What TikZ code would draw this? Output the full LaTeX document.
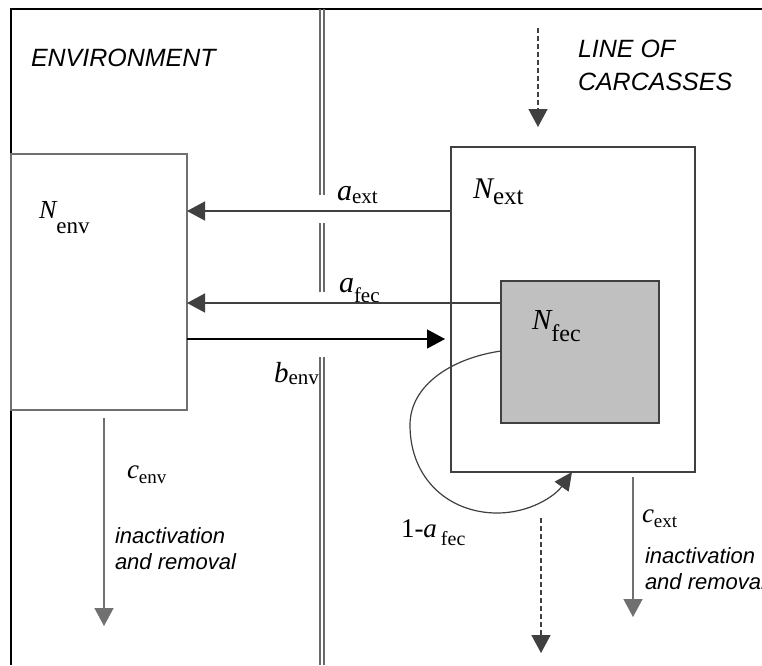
\documentclass[tikz,border=0pt]{standalone}
\usepackage{fontspec}
\setmainfont{Liberation Serif}
\newfontfamily\labelsans{Liberation Sans}
\usetikzlibrary{arrows.meta}

% italic quantity with an upright, lowered index
\newcommand\qtylabel[5]{{\fontsize{#3}{#3}\selectfont\itshape #1}\raisebox{-#5pt}{\fontsize{#4}{#4}\selectfont #2}}

\definecolor{boxgray}{HTML}{707070}
\definecolor{boxdark}{HTML}{404040}
\definecolor{fecgray}{HTML}{C0C0C0}
\definecolor{wallgray}{HTML}{6A6A6A}

\begin{document}
\begin{tikzpicture}[x=1pt,y=-1pt,
  box/.style={rectangle, inner sep=0pt, outer sep=0pt, line width=1.3pt},
  txt/.style={inner sep=0pt, outer sep=0pt, anchor=base west},
  sanstxt/.style={txt, font=\labelsans\itshape\fontsize{25}{33}\selectfont, align=left},
  removal/.style={txt, font=\labelsans\itshape\fontsize{22}{26}\selectfont, align=left},
  flow/.style={draw=boxdark, line width=1.4pt, -{Triangle[length=18pt,width=19pt]}},
  dashflow/.style={flow, dash pattern=on 5pt off 3pt},
  wall/.style={draw=wallgray, line width=1.1pt}]

\path[use as bounding box] (0,0) rectangle (762,665);
\clip (0,0) rectangle (762,665);
\fill[white] (0,0) rectangle (762,665);

% frame
\draw[black, line width=2.2pt] (11,665) -- (11,9) -- (762,9);

% double wall between the two zones, broken around the rate labels
\foreach \wx in {320,324} {
  \draw[wall] (\wx,9) -- (\wx,195);
  \draw[wall] (\wx,223) -- (\wx,292);
  \draw[wall] (\wx,357) -- (\wx,665);
}

% compartments
\node[box, draw=boxgray, minimum width=176pt, minimum height=256pt, anchor=north west] (envbox) at (11,154) {};
\node[box, draw=boxdark, minimum width=244pt, minimum height=325pt, anchor=north west] (extbox) at (451,147) {};
\node[box, draw=boxdark, fill=fecgray, minimum width=158pt, minimum height=142pt, anchor=north west] (fecbox) at (501,281) {};

% zone titles (anchored at the baseline of their last line)
\node[sanstxt] (envtitle) at (31,66) {ENVIRONMENT};
\node[sanstxt] (linetitle) at (578,90) {LINE OF\\CARCASSES};

% compartment labels
\node[txt] (nenv) at (39,218) {\qtylabel{N}{env}{26}{23}{15}};
\node[txt] (next) at (473,198) {\qtylabel{N}{ext}{30}{25}{6}};
\node[txt] (nfec) at (532,329) {\qtylabel{N}{fec}{29}{24}{12}};

% rate labels
\node[txt] (aext) at (337,200) {\qtylabel{a}{ext}{30}{21}{3}};
\node[txt] (afec) at (339,292) {\qtylabel{a}{fec}{30}{21}{10}};
\node[txt] (benv) at (274,382) {\qtylabel{b}{env}{29}{21}{2}};
\node[txt] (cenv) at (127,478) {\qtylabel{c}{env}{27}{19}{5}};
\node[txt] (cext) at (642,522) {\qtylabel{c}{ext}{27}{19}{5}};
\node[txt] (oneminus) at (401,537) {{\fontsize{27}{27}\selectfont 1-\textit{a}}\hspace{4pt}\raisebox{-8pt}{\fontsize{20}{20}\selectfont fec}};

\node[removal] (remenv) at (115,569) {inactivation\\and removal};
\node[removal] (remext) at (645,589) {inactivation\\and removal};

% exchange between carcasses and environment
\draw[flow] (extbox.west |- 0,211) -- (envbox.east |- 0,211);
\draw[flow] (fecbox.west |- 0,303) -- (envbox.east |- 0,303);
\coordinate (benvIn) at (445,339);
\draw[flow, draw=black] (envbox.east |- 0,339) -- (benvIn);

% faecal contamination staying on the carcass
\draw[draw=boxdark, line width=1.2pt, -{Triangle[length=18pt,width=17pt]}]
  (fecbox.west |- 0,351) .. controls (452,358) and (410,385) .. (410,425)
  .. controls (410,480) and (450,513) .. (497,513)
  .. controls (530,513) and (555,496) .. (extbox.south -| 572,0);

% inactivation and removal
\coordinate (cenvTop) at (104,418);
\coordinate (cenvEnd) at (104,626);
\draw[flow, draw=boxgray] (cenvTop) -- (cenvEnd);
\coordinate (cextTop) at (633,477);
\coordinate (cextEnd) at (633,617);
\draw[flow, draw=boxgray] (cextTop) -- (cextEnd);

% carcasses moving along the line
\coordinate (lineIn) at (538,28);
\coordinate (lineInEnd) at (538,127);
\draw[dashflow] (lineIn) -- (lineInEnd);
\coordinate (lineOut) at (541,518);
\coordinate (lineOutEnd) at (541,653);
\draw[dashflow] (lineOut) -- (lineOutEnd);
\end{tikzpicture}
\end{document}
